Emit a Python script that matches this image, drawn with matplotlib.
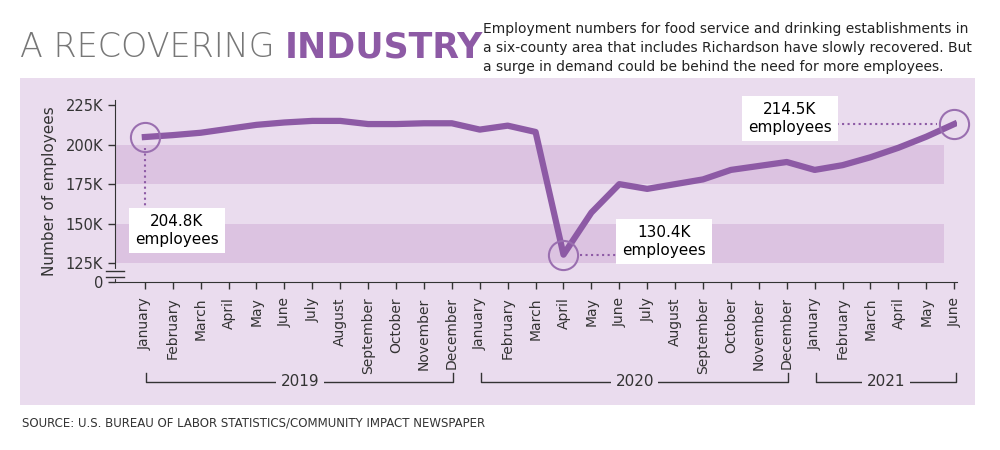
import matplotlib.pyplot as plt
from matplotlib.patches import Rectangle
from matplotlib.transforms import blended_transform_factory

# Data (thousands of employees)
months = ['January', 'February', 'March', 'April', 'May', 'June', 'July', 'August',
          'September', 'October', 'November', 'December'] * 2 + \
         ['January', 'February', 'March', 'April', 'May', 'June']
employees = [204.8, 206.0, 207.5, 210.0, 212.5, 214.0, 215.0, 215.0, 213.0, 213.0, 213.5, 213.5,
             209.5, 212.0, 208.0, 130.4, 157.0, 175.0, 172.0, 175.0, 178.0, 184.0, 186.5, 189.0,
             184.0, 187.0, 192.0, 198.0, 205.0, 213.0]
years = ['2019', '2020', '2021']
year_spans = [(0, 11), (12, 23), (24, 29)]
ytick_vals = [113, 125, 150, 175, 200, 225]
ytick_labels = ['0', '125K', '150K', '175K', '200K', '225K']

PURPLE = '#8d5aa5'
PANEL = '#eadcee'
BAND = '#dcc3e1'
DARK = '#333333'

fig = plt.figure(figsize=(10, 4.5), dpi=100)
fig.patches.append(Rectangle((0.02, 0.10), 0.955, 0.727, transform=fig.transFigure,
                             facecolor=PANEL, edgecolor='none', zorder=0))

ax = fig.add_axes([0.115, 0.373, 0.842, 0.404], zorder=2)
ax.set_facecolor('none')
x = list(range(len(employees)))
ax.axhspan(175, 200, xmin=0, xmax=0.985, color=BAND, lw=0, zorder=0)
ax.axhspan(125, 150, xmin=0, xmax=0.985, color=BAND, lw=0, zorder=0)
ax.plot(x, employees, color=PURPLE, lw=4.5, solid_joinstyle='round', zorder=3)

# highlighted points
for i in [0, 15, 29]:
    ax.plot(x[i], employees[i], 'o', ms=21, mfc='none', mec='#9a6fb0', mew=1.5, zorder=4,
            clip_on=False)

ax.set_xlim(-1.07, 29.1)
ax.set_ylim(113, 228)
ax.set_yticks(ytick_vals)
ax.set_yticklabels(ytick_labels, fontsize=10.5, color=DARK)
ax.set_xticks(x)
ax.set_xticklabels(months, rotation=90, fontsize=10, color=DARK)
ax.tick_params(axis='both', length=5, color=DARK, width=1)
ax.tick_params(axis='x', pad=6)
for s in ['top', 'right']:
    ax.spines[s].set_visible(False)
for s in ['left', 'bottom']:
    ax.spines[s].set_color(DARK)
ax.set_ylabel('Number of employees', fontsize=11, color=DARK, labelpad=6)

# broken axis marks
ax.plot([-1.07, -1.07], [116, 120], color=PANEL, lw=3, clip_on=False, zorder=5)
for yy in [116, 120]:
    ax.plot([-1.4, -0.75], [yy, yy], color=DARK, lw=1, clip_on=False, zorder=6)

# annotations
box = dict(boxstyle='square,pad=0.4', fc='white', ec='none')
ax.plot([0, 0], [employees[0] - 7, 160], ls=':', color=PURPLE, lw=1.5)
ax.text(1.15, 145.6, '204.8K\nemployees', ha='center', va='center', fontsize=11, bbox=box,
        linespacing=1.2)
ax.plot([15.6, 17.2], [employees[15], employees[15]], ls=':', color=PURPLE, lw=1.5)
ax.text(18.6, 138.6, '130.4K\nemployees', ha='center', va='center', fontsize=11, bbox=box,
        linespacing=1.2)
ax.plot([24.6, 28.4], [employees[29], employees[29]], ls=':', color=PURPLE, lw=1.5)
ax.text(23.1, 216.5, '214.5K\nemployees', ha='center', va='center', fontsize=11, bbox=box,
        linespacing=1.2)

# year brackets
tr = blended_transform_factory(ax.transData, fig.transFigure)
by = 1 - 382 / 450
for name, (a, b) in zip(years, year_spans):
    a0, b0 = a + 0.05, b + 0.05
    ax.plot([a0, a0, b0, b0], [by + 0.02, by, by, by + 0.02], color=DARK, lw=1,
            transform=tr, clip_on=False)
    ax.text((a0 + b0) / 2, by, name, ha='center', va='center', fontsize=11,
            color=DARK, transform=tr,
            bbox=dict(boxstyle='square,pad=0.3', fc=PANEL, ec='none'))

# titles
fig.text(0.02, 0.895, 'A RECOVERING', fontsize=24, color='#777777', fontweight='light',
         family='DejaVu Sans', va='center')
fig.text(0.285, 0.895, 'INDUSTRY', fontsize=25, color=PURPLE, fontweight='bold',
         family='DejaVu Sans', va='center')
fig.text(0.483, 0.95, 'Employment numbers for food service and drinking establishments in\n'
         'a six-county area that includes Richardson have slowly recovered. But\n'
         'a surge in demand could be behind the need for more employees.',
         fontsize=10, color='#222222', va='top', linespacing=1.45)
fig.text(0.022, 0.06, 'SOURCE: U.S. BUREAU OF LABOR STATISTICS/COMMUNITY IMPACT NEWSPAPER',
         fontsize=8.5, color='#333333', va='center')

fig.savefig('out.png', dpi=100)
